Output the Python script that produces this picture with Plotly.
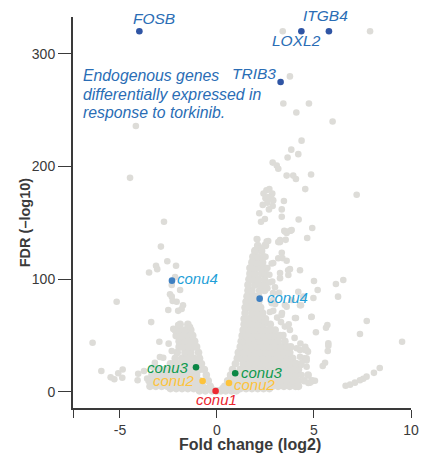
import plotly.graph_objects as go

# Dense wedge of genes read row by row: (FDR, [fold changes])
right_wing = [
    (1, [0.2, 0.45, 0.75, 1.0]),
    (3, [0.3, 0.6, 0.9, 1.2, 1.5, 1.8, 2.1, 2.4, 2.7]),
    (5, [0.4, 0.75, 1.05, 1.35, 1.65, 1.95, 2.25, 2.55, 2.85, 3.15, 3.45, 3.75, 4.05, 4.2]),
    (10, [0.55, 0.9, 1.2, 1.5, 1.8, 2.1, 2.4, 2.7, 3.0, 3.3, 3.6, 3.9, 4.2, 4.5, 4.9]),
    (15, [0.7, 1.05, 1.35, 1.65, 1.95, 2.25, 2.55, 2.85, 3.15, 3.45, 3.75, 4.05, 4.7]),
    (20, [0.8, 1.2, 1.5, 1.8, 2.1, 2.4, 2.7, 3.0, 3.3, 3.6, 3.9, 4.2]),
    (25, [0.95, 1.35, 1.65, 1.95, 2.25, 2.55, 2.85, 3.15, 3.45, 3.75, 4.1]),
    (30, [1.05, 1.2, 1.5, 1.8, 2.1, 2.4, 2.7, 3.0, 3.3, 3.6, 3.9]),
    (35, [1.1, 1.35, 1.65, 1.95, 2.25, 2.55, 2.85, 3.15, 3.45, 3.75]),
    (40, [1.2, 1.5, 1.8, 2.1, 2.4, 2.7, 3.0, 3.3, 3.6, 3.8]),
    (45, [1.25, 1.35, 1.65, 1.95, 2.25, 2.55, 2.85, 3.15, 3.5]),
    (50, [1.3, 1.5, 1.8, 2.1, 2.4, 2.7, 3.0, 3.25]),
    (55, [1.35, 1.65, 1.95, 2.25, 2.55, 2.8, 3.0]),
    (60, [1.4, 1.5, 1.8, 2.1, 2.4, 2.75]),
    (65, [1.4, 1.65, 1.95, 2.25, 2.5]),
    (70, [1.45, 1.8, 2.1, 2.35]),
    (75, [1.45, 1.65, 1.95, 2.25]),
    (80, [1.5, 1.8, 2.15]),
    (85, [1.55, 1.65, 1.95, 2.15]),
    (90, [1.6, 1.8, 2.2, 2.45]),
    (95, [1.6, 1.95, 2.25, 2.5]),
    (100, [1.65, 1.8, 2.1, 2.45]),
    (105, [1.7, 1.95, 2.3, 2.5]),
    (110, [1.7, 1.9, 2.2, 2.45]),
    (115, [1.8, 2.05, 2.35]),
    (120, [1.85, 2.1, 2.4]),
    (125, [1.95, 2.3]),
    (130, [2.1, 2.5]),
]
left_wing = [
    (1, [-0.9, -0.6, -0.25, 0.0]),
    (3, [-2.4, -2.1, -1.8, -1.5, -1.2, -0.9, -0.6, -0.3]),
    (5, [-3.45, -3.15, -2.85, -2.55, -2.25, -1.95, -1.65, -1.35, -1.05, -0.75, -0.35]),
    (10, [-3.5, -3.3, -3.0, -2.7, -2.4, -2.1, -1.8, -1.5, -1.2, -0.9, -0.45]),
    (15, [-3.35, -3.15, -2.85, -2.55, -2.25, -1.95, -1.65, -1.35, -1.05, -0.55]),
    (20, [-2.95, -2.7, -2.4, -2.1, -1.8, -1.5, -1.2, -0.9, -0.65]),
    (25, [-2.4, -2.25, -1.95, -1.65, -1.35, -1.05, -0.8]),
    (30, [-2.15, -1.8, -1.5, -1.2, -0.9]),
    (35, [-2.05, -1.65, -1.35, -0.95]),
    (40, [-1.95, -1.8, -1.5, -1.2, -1.05]),
    (45, [-1.95, -1.65, -1.35, -1.15]),
    (50, [-2.1, -1.8, -1.5, -1.25]),
    (55, [-2.15, -1.95, -1.65, -1.35]),
    (60, [-1.9, -1.5]),
]

# Individually visible grey genes
scatter_x = [
    3.39, 7.89, 3.76, 3.42, 4.74, 4.09, 5.96, -4.18, 4.36, 3.83, 4.19, 3.64, 2.87, 3.08, 3.16,
    3.59, 3.93, 4.07, 4.85, 4.55, 7.2, -4.48, -2.73, 4.21, 4.91, 3.45,
    2.4, 2.55, 2.7, 2.85, 2.5, 2.65, 2.8, 2.6, 2.9,
    2.36, 2.87, 2.68, 3.34, 2.18, 2.27, 2.47, 3.34, 4.65, 3.47, 3.8, 3.54, 3.25, 2.08, 2.64, 2.47,
    1.96, 2.3, 3.34, 3.16, 3.59, 2.82, 4.28, 3.76, 3.25, 3.68, 3.25, 5.0, 3.85, 3.59, 3.16,
    -2.89, -2.56, -2.11, -3.14, -3.08, -3.5, -2.16, -2.33, -1.9, -2.42, -2.33, -2.28, -2.08, -1.75,
    -1.82, -2.0, -2.51, -5.17, -3.39, -6.41, -2.97, -2.49, -2.33, -2.94, -2.77, -5.96, -5.48, -5.29,
    -5.09, -4.86, -4.88, -4.06, -3.76, -4.09, -2.25, -2.0, -1.39, -3.6, -3.3, -3.2,
    5.19, 4.97, 4.33, 4.86, 5.1, 5.69, 5.62, 6.13, 6.51, 6.24, 7.72, 7.37, 9.54, 5.74, 5.71, 5.57,
    5.45, 4.62, 4.5, 4.33, 4.62, 5.05, 4.79,
    6.63, 6.86, 7.11, 7.37, 7.54, 7.71, 8.09, 8.39,
    2.73, 3.59, 4.07, 2.89, 2.89, 3.76, 4.28, 4.69, 4.62, 4.36, 2.9, 3.1, 3.3, 3.5, 2.6, 2.85, 3.4,
    3.0, 3.35, 3.7, 4.0, 4.3, 4.55, 3.2, 2.6, 2.7, 2.5,
    2.05, 2.56, 2.3, 3.25, 3.5, 3.76, 3.37, 2.9, 3.67, 2.99, 2.73, 4.19, 4.45, 3.5, 3.85, 2.82,
    3.33, 4.02, 4.88, 4.28, 2.47, 3.42, 4.11, 4.54, 4.28, 4.62, 4.02, 5.74, 4.71, 4.36, 4.18,
]
scatter_y = [
    320, 320, 280, 256, 256, 248, 240, 236, 223, 215, 211, 208, 203.5, 201, 198,
    192, 192, 189, 193, 180, 175, 190, 151, 153, 145.5, 169.5,
    176, 179, 180, 176, 172, 173, 172, 168, 170,
    166, 165, 162, 162, 158.6, 151, 153.5, 155.5, 136.6, 143, 143, 135, 133, 135.5, 134, 130.4,
    126, 126, 123.6, 118.6, 116.5, 114, 108, 109, 105.6, 103.8, 101, 98.5, 143.7, 141, 133,
    129, 116, 112, 112, 109, 106, 102, 95, 90.5, 86.7, 84.6, 80.7, 80, 77,
    73.6, 72, 72.8, 80, 62, 43.7, 44.6, 42.9, 36.4, 31, 30.4, 18.6, 13, 11.3,
    16.6, 20, 12.7, 16.2, 18.6, 10.4, 56, 59.5, 57.6, 12, 22, 26,
    90.5, 83.4, 77, 66.5, 53, 59.5, 57, 95.8, 99.4, 84.6, 63, 51.5, 44.6, 41, 36.4, 26,
    23, 37.3, 30, 24, 22.4, 10, 8.3,
    5.6, 6.5, 8.3, 10.4, 11.8, 13.6, 17, 21.3,
    71, 75.7, 65.7, 81.6, 87.8, 55, 37.3, 35.8, 28, 25.7, 72, 66, 62, 58, 92, 98, 50,
    78, 70, 60, 48, 43, 40, 88, 110, 104, 120,
    135.8, 133.4, 127.8, 134.9, 142.3, 143, 118.8, 114.5, 108, 92.9, 97.3, 89, 84.6, 77.2, 81.6, 78.7,
    68.3, 65.7, 66.8, 77, 62.4, 50.6, 38.8, 37.3, 31.3, 29.9, 25.7, 43.2, 8, 15, 6,
]

# Highlighted genes
gene_names = ["FOSB", "ITGB4", "LOXL2", "TRIB3"]
gene_x = [-4.0, 5.77, 4.35, 3.28]
gene_y = [320, 320, 320, 275]

conu_x = [-2.32, 2.2, -1.08, 0.94, -0.74, 0.62, -0.07]
conu_y = [98.8, 82.8, 22, 16.6, 9.8, 8, 0.9]
conu_colors = ["#3f80c2", "#3f80c2", "#0b8746", "#0b8746", "#fdc33c", "#fdc33c", "#ec2a33"]

# Labels: text, x, y, colour, size, vertical shift
label_rows = [
    ("FOSB", -4.41, 330, "#2a6db5", 15.5, 2),
    ("ITGB4", 4.35, 330, "#2a6db5", 15.5, 5),
    ("LOXL2", 2.71, 312, "#2a6db5", 15.5, 0),
    ("TRIB3", 0.69, 283, "#2a6db5", 15.5, 0),
    ("Endogenous genes", -7.03, 281, "#2a6db5", 15.8, 0),
    ("differentially expressed in", -7.03, 264, "#2a6db5", 15.8, 0),
    ("response to torkinib.", -7.03, 247.6, "#2a6db5", 15.8, 0),
    ("conu4", -2.14, 101, "#1f9fd8", 15, 0),
    ("conu4", 2.45, 84, "#1f9fd8", 15, 0),
    ("conu3", -3.69, 22, "#0f9a4e", 15, 0),
    ("conu3", 1.16, 17.7, "#0f9a4e", 15, 0),
    ("conu2", -3.38, 9.8, "#fdc33c", 15, 0),
    ("conu2", 0.75, 7, "#fdc33c", 15, 0),
    ("conu1", -1.16, -7, "#e9252f", 15, 0),
]

x_ticks = [-7.42, -5, 0, 5, 10]
x_tick_text = ["", "-5", "0", "5", "10"]
y_ticks = [0, 100, 200, 300]

GREY = "#dddcd8"
FONT = "Liberation Sans"
INK = "#3a3a3a"

dense_x, dense_y = [], []
for y, xs in right_wing + left_wing:
    dense_x += xs
    dense_y += [y] * len(xs)

fig = go.Figure()
fig.add_trace(go.Scatter(x=dense_x, y=dense_y, mode="markers",
                         marker=dict(color=GREY, size=7.6), hoverinfo="skip"))
fig.add_trace(go.Scatter(x=scatter_x, y=scatter_y, mode="markers",
                         marker=dict(color=GREY, size=6.6), hoverinfo="skip"))
fig.add_trace(go.Scatter(x=gene_x, y=gene_y, mode="markers", text=gene_names,
                         marker=dict(color="#2f55a4", size=6.6)))
fig.add_trace(go.Scatter(x=conu_x, y=conu_y, mode="markers",
                         marker=dict(color=conu_colors, size=6.6)))

for text, x, y, color, size, shift in label_rows:
    fig.add_annotation(x=x, y=y, text=f"<i>{text}</i>", showarrow=False, xanchor="left",
                       yanchor="middle", align="left", yshift=shift,
                       font=dict(family=FONT, size=size, color=color))

# Axis titles, placed off-centre as in the reference
fig.add_annotation(text="<b>Fold change (log2)</b>", xref="paper", yref="paper", showarrow=False,
                   x=0.525, y=-0.093, xanchor="center", yanchor="middle",
                   font=dict(family=FONT, size=16, color=INK))
fig.add_annotation(text="<b>FDR (–log10)</b>", xref="paper", yref="paper", showarrow=False,
                   x=-0.142, y=0.475, xanchor="center", yanchor="middle", textangle=-90,
                   font=dict(family=FONT, size=14.5, color=INK))

axis_common = dict(showgrid=False, zeroline=False, showline=True, linecolor=INK, linewidth=2,
                   ticks="outside", tickcolor=INK, tickwidth=1.2,
                   tickfont=dict(family=FONT, size=14, color=INK))
fig.update_xaxes(range=[-7.42, 10], tickvals=x_ticks, ticktext=x_tick_text, ticklen=8, **axis_common)
fig.update_yaxes(range=[-14.2, 332.7], tickvals=y_ticks, ticklen=13, **axis_common)
fig.update_layout(width=427, height=454, showlegend=False, template=None,
                  margin=dict(l=73, r=16, t=17, b=46),
                  paper_bgcolor="white", plot_bgcolor="white")
fig.write_html("out.html", post_script="document.body.style.margin='0';",
               config=dict(displayModeBar=False))
